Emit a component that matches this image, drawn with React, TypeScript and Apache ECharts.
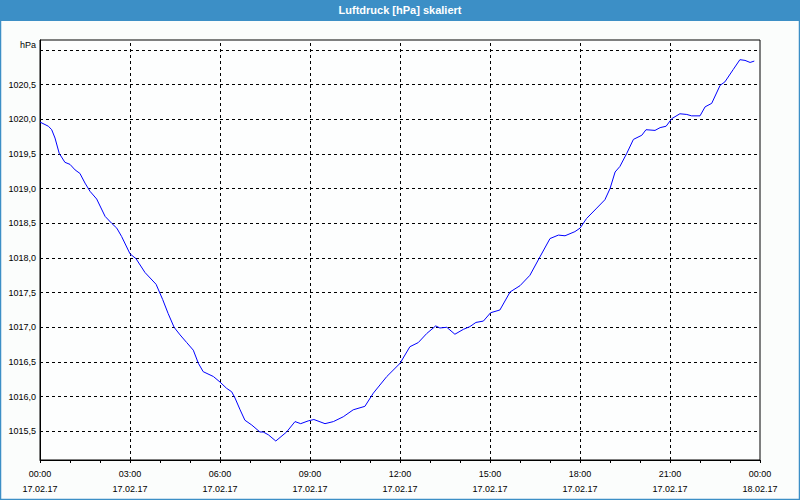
import React, { useEffect, useRef } from "react";
import * as echarts from "echarts";

// time in hours since 17.02.17 00:00
const hours = [
  0.0, 0.28, 0.39, 0.5, 0.64, 0.83, 1.0, 1.17, 1.33, 1.5, 1.67, 1.89, 2.17, 2.39, 2.56, 2.72,
  3.0, 3.2, 3.5, 3.87, 4.09, 4.27, 4.47, 4.67, 4.89, 5.11, 5.28, 5.44, 5.78, 6.0, 6.22, 6.39,
  6.5, 6.67, 6.83, 7.06, 7.33, 7.44, 7.61, 7.86, 8.22, 8.5, 8.69, 8.94, 9.13, 9.5, 9.78, 10.11,
  10.44, 10.83, 11.11, 11.56, 12.0, 12.33, 12.61, 12.89, 13.19, 13.33, 13.56, 13.83, 14.11, 14.33,
  14.53, 14.78, 15.02, 15.33, 15.67, 16.0, 16.33, 16.67, 17.0, 17.28, 17.5, 17.83, 18.0, 18.22,
  18.56, 18.83, 19.0, 19.17, 19.33, 19.56, 19.78, 20.06, 20.2, 20.5, 20.67, 20.87, 21.06, 21.33,
  21.56, 21.72, 22.0, 22.17, 22.39, 22.67, 22.83, 23.11, 23.33, 23.5, 23.67, 23.81,
];

const pressure = [
  1019.96, 1019.9, 1019.85, 1019.73, 1019.51, 1019.38, 1019.35, 1019.27, 1019.22, 1019.08, 1018.96, 1018.85, 1018.6, 1018.5, 1018.43, 1018.31,
  1018.06, 1017.99, 1017.79, 1017.62, 1017.4, 1017.2, 1017.0, 1016.89, 1016.78, 1016.67, 1016.48, 1016.36, 1016.29, 1016.21, 1016.12, 1016.07,
  1015.98, 1015.81, 1015.66, 1015.59, 1015.49, 1015.49, 1015.45, 1015.36, 1015.49, 1015.64, 1015.61, 1015.65, 1015.67, 1015.61, 1015.64, 1015.71,
  1015.81, 1015.86, 1016.05, 1016.29, 1016.48, 1016.72, 1016.78, 1016.91, 1017.02, 1016.99, 1017.0, 1016.9, 1016.97, 1017.01,
  1017.07, 1017.09, 1017.21, 1017.25, 1017.51, 1017.6, 1017.75, 1018.02, 1018.28, 1018.33, 1018.32, 1018.38, 1018.43, 1018.57,
  1018.72, 1018.84, 1019.0, 1019.24, 1019.32, 1019.51, 1019.71, 1019.77, 1019.85, 1019.84, 1019.88, 1019.9, 1020.01, 1020.08,
  1020.07, 1020.05, 1020.05, 1020.18, 1020.23, 1020.49, 1020.54, 1020.72, 1020.86, 1020.85, 1020.82, 1020.84,
];

const yTickLabels = [1015.5, 1016.0, 1016.5, 1017.0, 1017.5, 1018.0, 1018.5, 1019.0, 1019.5, 1020.0, 1020.5];
const yGridValues = [1015.5, 1016.0, 1016.5, 1017.0, 1017.5, 1018.0, 1018.5, 1019.0, 1019.5, 1020.0, 1020.5, 1021.0];
const xGridHours = [3, 6, 9, 12, 15, 18, 21];
const xTimeLabels = ["00:00", "03:00", "06:00", "09:00", "12:00", "15:00", "18:00", "21:00", "00:00"];
const xDateLabels = ["17.02.17", "17.02.17", "17.02.17", "17.02.17", "17.02.17", "17.02.17", "17.02.17", "17.02.17", "18.02.17"];

const TITLE = "Luftdruck [hPa] skaliert";
const UNIT = "hPa";

export default function App() {
  const ref = useRef<HTMLDivElement>(null);
  useEffect(() => {
    if (!ref.current) return;
    const chart = echarts.init(ref.current, undefined, { renderer: "svg" });
    const font = "'Liberation Sans', Arial, sans-serif";
    const dash = { color: "#000", width: 1, type: [3, 3] as any };
    chart.setOption({
      animation: false,
      backgroundColor: "#fbfdfc",
      textStyle: { fontFamily: font },
      grid: {
        left: 40,
        right: 40,
        top: 40,
        bottom: 40,
        show: true,
        borderColor: "#000",
        borderWidth: 1,
        backgroundColor: "#fdfefe",
      },
      xAxis: {
        type: "value",
        min: 0,
        max: 24,
        interval: 1,
        axisLine: { show: true, onZero: false, lineStyle: { color: "#000", width: 1 } },
        axisTick: { show: true, length: 3, lineStyle: { color: "#000" } },
        splitLine: { show: false },
        axisLabel: {
          margin: 6,
          fontSize: 9,
          lineHeight: 15,
          color: "#000",
          fontFamily: font,
          formatter: (v: number) => {
            if (Math.round(v) % 3 !== 0) return "";
            const i = Math.round(v) / 3;
            return xTimeLabels[i] + "\n" + xDateLabels[i];
          },
        },
      },
      yAxis: {
        type: "value",
        min: 1015.086,
        max: 1021.144,
        axisLine: { show: true, lineStyle: { color: "#000", width: 1 } },
        axisTick: { show: false },
        splitLine: { show: false },
        axisLabel: {
          customValues: yTickLabels,
          margin: 4,
          fontSize: 9,
          color: "#000",
          fontFamily: font,
          formatter: (v: number) => v.toFixed(1).replace(".", ","),
        },
      },
      graphic: [
        { type: "rect", shape: { x: 0, y: 0, width: 800, height: 21 }, style: { fill: "#3c8fc6" }, z: 10 },
        {
          type: "text",
          x: 400,
          y: 10,
          style: {
            text: TITLE,
            fill: "#fff",
            font: "bold 11px 'Liberation Sans', Arial, sans-serif",
            align: "center",
            verticalAlign: "middle",
          },
          z: 11,
        },
        {
          type: "rect",
          shape: { x: 0.5, y: 0.5, width: 799, height: 499 },
          style: { fill: "none", stroke: "#3c8fc6", lineWidth: 1.5 },
          z: 10,
        },
        {
          type: "text",
          x: 36,
          y: 45,
          style: {
            text: UNIT,
            fill: "#000",
            font: "9px 'Liberation Sans', Arial, sans-serif",
            align: "right",
            verticalAlign: "middle",
          },
          z: 11,
        },
      ],
      series: [
        {
          type: "line",
          data: hours.map((h, i) => [h, pressure[i]]),
          showSymbol: false,
          symbol: "none",
          lineStyle: { color: "#0000ff", width: 1 },
          z: 5,
          markLine: {
            silent: true,
            symbol: ["none", "none"],
            label: { show: false },
            lineStyle: dash,
            data: [
              ...yGridValues.map((v) => ({ yAxis: v })),
              ...xGridHours.map((h) => ({ xAxis: h })),
            ],
          },
        },
      ],
    });
    return () => chart.dispose();
  }, []);
  return <div ref={ref} style={{ position: "fixed", left: 0, top: 0, width: 800, height: 500 }} />;
}
